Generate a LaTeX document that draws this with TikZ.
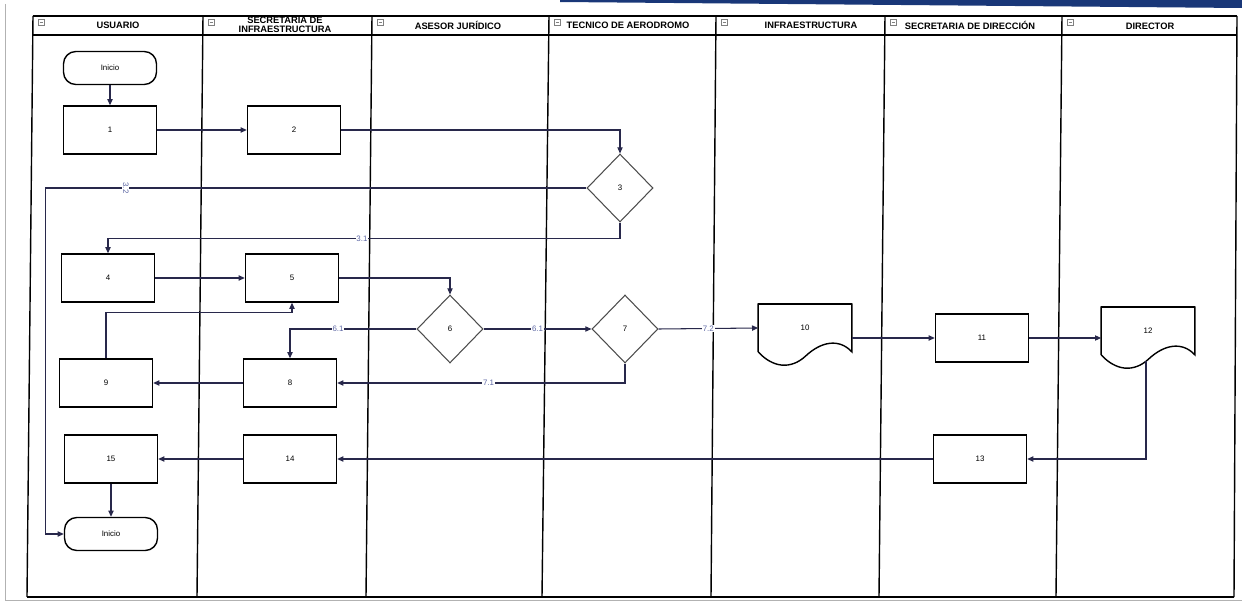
\documentclass[tikz,border=0pt]{standalone}
\usepackage{fontspec}
\setmainfont{Liberation Sans}
\usetikzlibrary{arrows.meta, positioning, calc, shapes.geometric}

\definecolor{linkcol}{RGB}{40,40,75}
\definecolor{tagcol}{RGB}{95,105,165}
\definecolor{scanblue}{RGB}{25,55,120}

% outline of a document symbol around a node
\newcommand{\docwave}[1]{%
  \draw[docline] (#1.south west) -- (#1.north west) -- (#1.north east) -- (#1.south east)
    .. controls ($(#1.south east)+(-13,-14)$) and ($(#1.south east)+(-31,-10)$) .. ($(#1.south east)+(-46,4)$)
    .. controls ($(#1.south east)+(-61,18)$) and ($(#1.south east)+(-79,16)$) .. (#1.south west);
  \draw[line width=1.3pt] (#1.north west) -- (#1.north east);}

\begin{document}
\begin{tikzpicture}[x=0.02cm, y=-0.02cm,
    lane/.style={line width=0.8pt},
    proc/.style={draw, line width=0.8pt, minimum width=1.86cm, minimum height=0.96cm,
      inner sep=0pt, font=\fontsize{4.5}{5}\selectfont},
    term/.style={proc, minimum height=0.66cm, rounded corners=7pt},
    dec/.style={draw=black!70, line width=0.6pt, diamond, minimum width=1.32cm,
      minimum height=1.36cm, inner sep=0pt, font=\fontsize{4.5}{5}\selectfont},
    doc/.style={minimum width=1.86cm, minimum height=0.94cm, inner sep=0pt,
      font=\fontsize{4.5}{5}\selectfont},
    docline/.style={line width=0.8pt},
    conn/.style={draw=linkcol, line width=0.6pt, -{Triangle[length=3.5pt,width=3pt]}},
    tag/.style={fill=white, inner sep=0.4pt, text=tagcol, font=\fontsize{4.5}{4.5}\selectfont},
    head/.style={font=\bfseries\fontsize{5.3}{5.1}\selectfont, align=center}]

    \useasboundingbox (0,0) rectangle (1242,608);

    % scan border and strip
    \fill[scanblue] (560,0) -- (1242,0) -- (1242,8) -- (560,2) -- cycle;
    \draw[gray!60, line width=0.5pt] (5,4) -- (5,600) -- (1242,600);

    % Lanes
    \draw[lane] (33,16) -- (1237,16);
    \draw[lane] (33,35) -- (1237,35);
    \draw[lane] (27,597) -- (1234,597);
    \foreach \xt/\xb in {33/27, 203/197, 372/366, 549/542, 716/711, 885/879, 1062/1056, 1237/1234}
        \draw[lane] (\xt,16) -- (\xb,597);
    \foreach \xi in {33, 203, 372, 549, 716, 885, 1062} {
        \draw[gray, line width=0.3pt] (\xi+5,19) rectangle (\xi+11,25);
        \draw[gray, line width=0.3pt] (\xi+6.5,22) -- (\xi+9.5,22);
    }

    % Lane titles
    \node[head] (hUsu) at (118,25) {USUARIO};
    \node[head] (hSec) at (285,25) {SECRETARIA DE\\INFRAESTRUCTURA};
    \node[head] (hAse) at (458,25) {ASESOR JURÍDICO};
    \node[head] (hTec) at (628,25) {TECNICO DE AERODROMO};
    \node[head] (hInf) at (811,25) {INFRAESTRUCTURA};
    \node[head] (hSdi) at (970,25) {SECRETARIA DE DIRECCIÓN};
    \node[head] (hDir) at (1150,26) {DIRECTOR};

    % Steps
    \node[term] (ini1) at (110,68) {Inicio};
    \node[proc] (b1) at (110,130) {1};
    \node[proc] (b2) at (294,130) {2};
    \node[dec] (d3) at (620,188) {3};
    \node[proc] (b4) at (108,278) {4};
    \node[proc] (b5) at (292,278) {5};
    \node[dec] (d6) at (450,329) {6};
    \node[dec] (d7) at (625,329) {7};
    \node[proc] (b8) at (290,383) {8};
    \node[proc] (b9) at (106,383) {9};
    \node[doc] (d10) at (805,328) {10};
    \docwave{d10}
    \node[proc] (b11) at (982,338) {11};
    \node[doc] (d12) at (1148,331) {12};
    \docwave{d12}
    \node[proc] (b13) at (980,459) {13};
    \node[proc] (b14) at (290,459) {14};
    \node[proc] (b15) at (111,459) {15};
    \node[term] (ini2) at (111,534) {Inicio};

    % Flow
    \draw[conn] (ini1) -- (b1);
    \draw[conn] (b1) -- (b2);
    \draw[conn] (b2.east) -| (d3.north);
    \draw[conn] (d3.west) -| node[tag, pos=0.426, rotate=-90] {3.2} ($(ini2.west)+(-18,0)$) -- (ini2.west);
    \draw[conn] (d3.south) -- ++(0,16) -| node[tag, pos=0.252] {3.1} (b4.north);
    \draw[conn] (b4) -- (b5);
    \draw[conn] (b5.east) -| (d6.north);
    \draw[conn] (d6.west) -| node[tag, pos=0.31] {6.1} (b8.north);
    \draw[conn] (d6.east) -- node[tag] {6.1} (d7.west);
    \draw[conn] (d7.south) |- node[tag, pos=0.737] {7.1} (b8.east);
    \draw[conn] (d7.east) -- node[tag] {7.2} (d10.west);
    \draw[conn] (b8) -- (b9);
    \draw[conn] (b9.north) |- ($(b5.south)+(0,10)$) -- (b5.south);
    \draw[conn] (b11.west -| d10.east) -- (b11.west);
    \draw[conn] (b11.east) -- (b11.east -| d12.west);
    \draw[conn] ($(d12.south)+(-2,6)$) |- (b13.east);
    \draw[conn] (b13) -- (b14);
    \draw[conn] (b14) -- (b15);
    \draw[conn] (b15) -- (ini2);

\end{tikzpicture}
\end{document}
